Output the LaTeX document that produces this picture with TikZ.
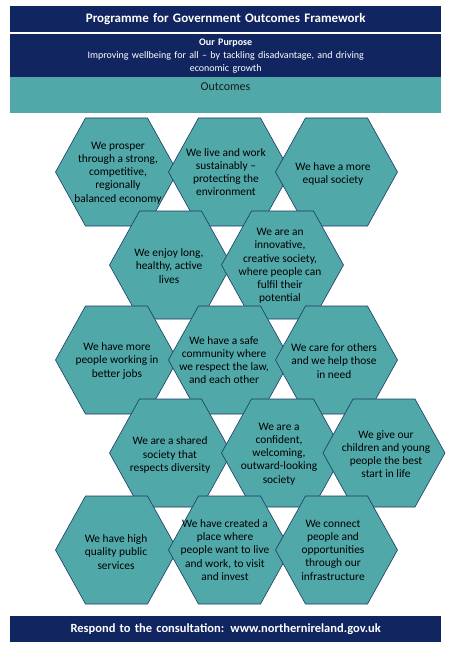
\documentclass[tikz,border=0pt]{standalone}
\usepackage{fontspec}
\setmainfont{Carlito}
\definecolor{navy}{RGB}{17,38,96}
\definecolor{tealfill}{RGB}{80,168,169}
\definecolor{hexline}{RGB}{28,58,102}
\newcommand{\hexcell}[2]{%
  \draw[hexshape, shift={(#1,#2)}] (-61,0) -- (-31,-54) -- (31,-54) -- (61,0) -- (31,54) -- (-31,54) -- cycle;}
\begin{document}
\begin{tikzpicture}[x=1pt,y=-1pt,
  barbox/.style={fill=navy, draw=none, inner sep=0pt, anchor=north west, text width=431pt, align=center, text=white},
  hexshape/.style={fill=tealfill, draw=hexline, line width=0.6pt, line join=miter},
  hextext/.style={align=center, font=\fontsize{11.4}{13.2}\selectfont, inner sep=0pt, text=black}]
\useasboundingbox (0,0) rectangle (450,650);
\fill[white] (0,0) rectangle (450,650);
% header bars
\node[barbox, minimum height=26pt, font=\bfseries\fontsize{13}{15}\selectfont] (title) at (10,6) {Programme for Government Outcomes Framework};
\node[barbox, minimum height=43pt, font=\fontsize{10}{13}\selectfont] (purpose) at (10,34) {{\bfseries Our Purpose}\\Improving wellbeing for all -- by tackling disadvantage, and driving\\economic growth};
\fill[tealfill] (10,77) rectangle (441,113);
\node[font=\fontsize{12}{14}\selectfont, text=black!90, inner sep=0pt] (outcomes) at (225.5,87) {Outcomes};
% hexagons
\hexcell{116.5}{172}\hexcell{229.5}{172}\hexcell{336.5}{172}
\hexcell{170.5}{265}\hexcell{282.5}{265}
\hexcell{116.5}{360}\hexcell{229.5}{360}\hexcell{336.5}{360}
\hexcell{170.5}{453}\hexcell{282.5}{453}\hexcell{384}{453}
\hexcell{116.5}{550}\hexcell{229.5}{550}\hexcell{336.5}{550}
% hexagon texts
\node[hextext] (h1) at (118,173) {We prosper\\through a strong,\\competitive,\\regionally\\balanced economy};
\node[hextext] (h2) at (226,172) {We live and work\\sustainably --\\protecting the\\environment};
\node[hextext] (h3) at (333,174) {We have a more\\equal society};
\node[hextext] (h4) at (169,266) {We enjoy long,\\healthy, active\\lives};
\node[hextext] (h5) at (280,266) {We are an\\innovative,\\creative society,\\where people can\\fulfil their\\potential};
\node[hextext] (h6) at (117,361) {We have more\\people working in\\better jobs};
\node[hextext] (h7) at (224,360) {We have a safe\\community where\\we respect the law,\\and each other};
\node[hextext] (h8) at (334,361) {We care for others\\and we help those\\in need};
\node[hextext] (h9) at (170,455) {We are a shared\\society that\\respects diversity};
\node[hextext] (h10) at (279,454) {We are a\\confident,\\welcoming,\\outward-looking\\society};
\node[hextext] (h11) at (386,454) {We give our\\children and young\\people the best\\start in life};
\node[hextext] (h12) at (116,552) {We have high\\quality public\\services};
\node[hextext] (h13) at (225,550) {We have created a\\place where\\people want to live\\and work, to visit\\and invest};
\node[hextext] (h14) at (333,550) {We connect\\people and\\opportunities\\through our\\infrastructure};
% footer
\node[barbox, minimum height=26pt, font=\bfseries\fontsize{12.5}{15}\selectfont] (footer) at (10,616) {Respond to the consultation: www.northernireland.gov.uk};
\end{tikzpicture}
\end{document}
